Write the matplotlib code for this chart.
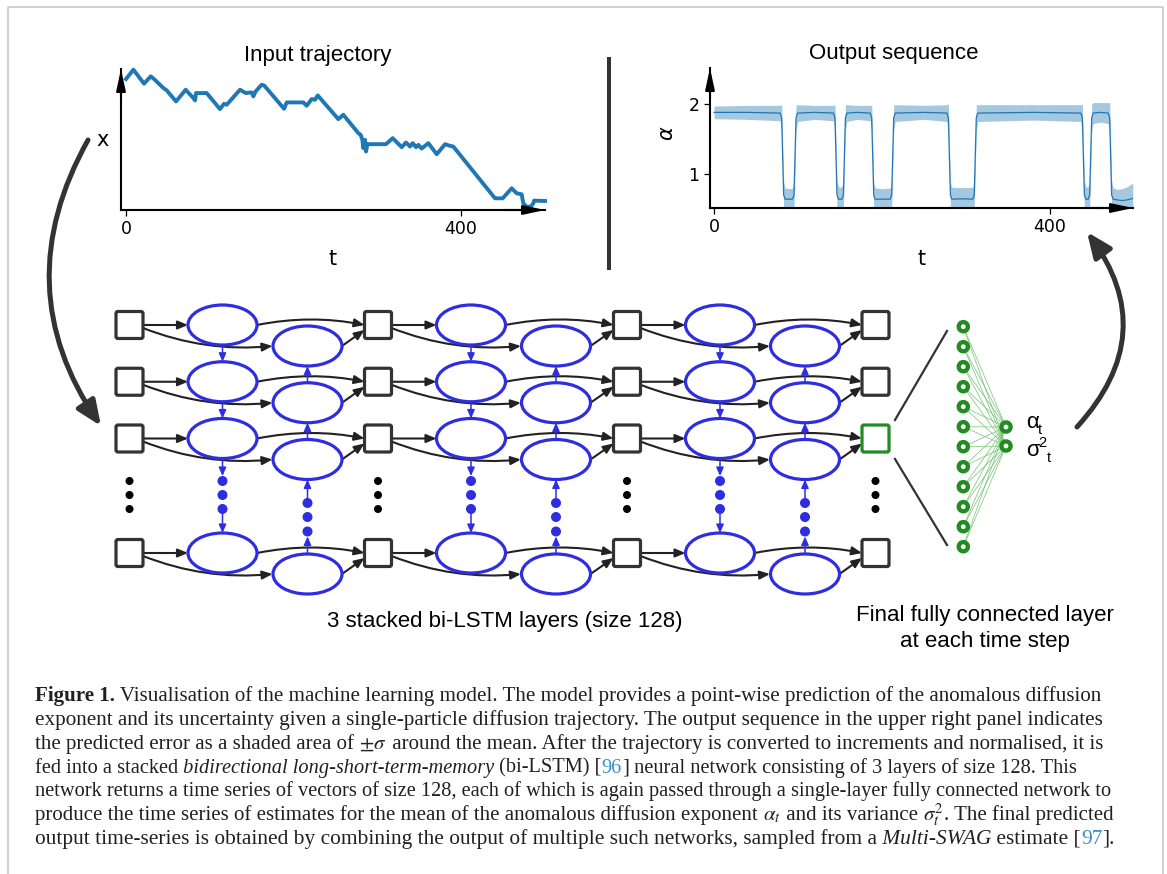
import matplotlib
matplotlib.use('Agg')
import matplotlib.pyplot as plt
from matplotlib.patches import Ellipse, FancyArrowPatch, FancyBboxPatch, Circle

W, H = 1167, 874

# ---------------- data ----------------
# Input trajectory (t, x in arbitrary units)
traj_t = [0, 8.8, 21.5, 29.5, 33.4, 44.6, 48.6, 59.7, 71.2, 80.4, 82.4, 83.6, 96.3,
          112.2, 117, 120.2, 136.1, 142.9, 150, 152, 154.8, 162, 165.2, 188.7, 191.8,
          211.7, 215.7, 221.7, 225.7, 228.9, 253.5, 259.5, 277.4, 280.2, 282.2, 283.4,
          285.4, 286.6, 288.2, 310.4, 318.4, 329.2, 334.3, 339.1, 342.3, 346.3, 349.1,
          353, 361, 371, 381, 386.9, 390.8, 440.6, 449.8, 460.5, 466.5, 472.4, 474.4,
          478.4, 483.2, 486.4, 487.2, 500.3]
traj_x = [3.92, 4.20, 3.78, 4.00, 3.92, 3.65, 3.58, 3.25, 3.60, 3.35, 3.28, 3.50, 3.50,
          3.02, 3.18, 3.15, 3.60, 3.50, 3.52, 3.40, 3.55, 3.75, 3.72, 3.03, 3.22,
          3.22, 3.12, 3.32, 3.30, 3.43, 2.72, 2.85, 2.30, 2.25, 2.10, 1.85,
          2.10, 1.75, 1.97, 1.97, 2.15, 1.88, 2.02, 1.90, 2.00, 1.88, 1.95,
          1.84, 2.00, 1.67, 1.97, 1.92, 1.90, 0.35, 0.35, 0.65, 0.50, 0.47, 0.20,
          0.10, 0.10, 0.20, 0.28, 0.27]

# Output sequence: time, predicted mean alpha, predicted sigma
out_t = [0, 40, 78.7, 80.5, 81.7, 82.9, 84.7, 90, 93.4, 95.2, 96.4, 97.6, 99.4,
         120, 142.2, 144.0, 145.2, 146.4, 148.2, 150, 152.2, 154.0, 155.2, 156.4, 158.2,
         170, 185.9, 187.7, 188.9, 190.1, 191.9, 200, 209.7, 211.5, 212.7, 213.9, 215.7,
         250, 277.2, 279.0, 280.2, 281.4, 283.2, 295, 308.0, 309.8, 311.0, 312.2, 314.0,
         380, 436.7, 438.5, 439.7, 440.9, 442.7, 444, 445.4, 447.2, 448.4, 449.6, 451.4,
         460, 469.2, 471.0, 472.2, 473.4, 475.2, 480, 486, 492, 498.5]
out_mean = [1.88, 1.88, 1.87, 1.80, 1.25, 0.70, 0.64, 0.64, 0.64, 0.70, 1.25, 1.80, 1.87,
            1.88, 1.87, 1.80, 1.25, 0.70, 0.64, 0.64, 0.64, 0.70, 1.25, 1.80, 1.87,
            1.88, 1.87, 1.80, 1.25, 0.70, 0.64, 0.64, 0.64, 0.70, 1.25, 1.80, 1.87,
            1.88, 1.87, 1.80, 1.25, 0.70, 0.64, 0.645, 0.64, 0.70, 1.25, 1.80, 1.87,
            1.88, 1.87, 1.80, 1.25, 0.70, 0.64, 0.64, 0.64, 0.70, 1.25, 1.80, 1.87,
            1.88, 1.87, 1.80, 1.25, 0.70, 0.64, 0.63, 0.62, 0.63, 0.65]
out_sigma = [0.09, 0.10, 0.11, 0.19, 0.20, 0.19, 0.16, 0.15, 0.16, 0.19, 0.20, 0.19, 0.12,
             0.10, 0.11, 0.19, 0.20, 0.20, 0.18, 0.17, 0.18, 0.20, 0.20, 0.19, 0.12,
             0.10, 0.11, 0.19, 0.20, 0.19, 0.16, 0.15, 0.16, 0.19, 0.20, 0.19, 0.12,
             0.10, 0.12, 0.20, 0.20, 0.19, 0.17, 0.16, 0.17, 0.19, 0.20, 0.19, 0.12,
             0.11, 0.12, 0.20, 0.20, 0.20, 0.18, 0.17, 0.18, 0.20, 0.20, 0.20, 0.15,
             0.14, 0.15, 0.22, 0.22, 0.20, 0.16, 0.15, 0.17, 0.19, 0.22]

traj_xticks = [0, 400]
out_xticks = [0, 400]
out_yticks = [1, 2]

titles = ["Input trajectory", "Output sequence"]
lstm_label = "3 stacked bi-LSTM layers (size 128)"
fc_label = ["Final fully connected layer", "at each time step"]

caption_lines = [
    [("Figure 1.", "b"), (" Visualisation of the machine learning model. The model provides a point-wise prediction of the anomalous diffusion", "r")],
    [("exponent and its uncertainty given a single-particle diffusion trajectory. The output sequence in the upper right panel indicates", "r")],
    [("the predicted error as a shaded area of", "r"), (" ", "r"), (r"$\pm\sigma$", "m"), (" around the mean. After the trajectory is converted to increments and normalised, it is", "r")],
    [("fed into a stacked", "r"), (" bidirectional long-short-term-memory", "i"), (" (bi-LSTM) [", "r"), ("96", "l"), ("]", "r"), (" neural network consisting of 3 layers of size 128. This", "r")],
    [("network returns a time series of vectors of size 128, each of which is again passed through a single-layer fully connected network to", "r")],
    [("produce the time series of estimates for the mean of the anomalous diffusion exponent", "r"), (" ", "r"), (r"$\alpha_t$", "m"), (" and its variance", "r"), (" ", "r"), (r"$\sigma_t^2$", "m"), (". The final predicted", "r")],
    [("output time-series is obtained by combining the output of multiple such networks, sampled from a", "r"), (" Multi-SWAG", "i"), (" estimate [", "r"), ("97", "l"), ("].", "r")],
]

# ---------------- figure ----------------
fig = plt.figure(figsize=(W / 100, H / 100), dpi=100)
ax0 = fig.add_axes([0, 0, 1, 1])
ax0.set_xlim(0, W)
ax0.set_ylim(H, 0)
ax0.axis('off')

SANS = 'Liberation Sans'
DARK = '#333333'
BLUE_NODE = '#2e2ee0'
GREEN = '#228b22'

# frame
ax0.plot([7.5, 7.5, 1163, 1163], [H, 6.5, 6.5, H], color='#c4c4c4', lw=1.1)

# ---------------- charts ----------------
def axis_arrows(ax):
    kw = dict(arrowstyle='-|>,head_length=1.3,head_width=0.28', mutation_scale=10,
              lw=1.5, color='k', shrinkA=0, shrinkB=0)
    ax.annotate('', xy=(1, 0), xytext=(0.9, 0), xycoords='axes fraction',
                textcoords='axes fraction', arrowprops=kw, annotation_clip=False)
    ax.annotate('', xy=(0, 1), xytext=(0, 0.8), xycoords='axes fraction',
                textcoords='axes fraction', arrowprops=kw, annotation_clip=False)

def style_axes(ax):
    for s in ['top', 'right']:
        ax.spines[s].set_visible(False)
    for s in ['left', 'bottom']:
        ax.spines[s].set_linewidth(1.5)
    ax.patch.set_alpha(0)
    ax.tick_params(labelsize=12.5, width=0.9, length=4)

ax1 = fig.add_axes([121 / W, 1 - 210 / H, (545 - 121) / W, (210 - 69) / H])
ax1.plot(traj_t, traj_x, color='#1f77b4', lw=2.8, clip_on=False)
ax1.set_xlim(-6, 500.3)
ax1.set_ylim(0, 4.22)
style_axes(ax1)
ax1.set_xticks(traj_xticks)
ax1.set_yticks([])
axis_arrows(ax1)

ax2 = fig.add_axes([710 / W, 1 - 208 / H, (1133 - 710) / W, (208 - 68) / H])
lo = [m - s for m, s in zip(out_mean, out_sigma)]
hi = [m + s for m, s in zip(out_mean, out_sigma)]
ax2.fill_between(out_t, lo, hi, color='#1f77b4', alpha=0.4, lw=0)
ax2.plot(out_t, out_mean, color='#1f77b4', lw=0.9)
ax2.set_xlim(-4.8, 498.8)
ax2.set_ylim(0.514, 2.514)
style_axes(ax2)
ax2.set_xticks(out_xticks)
ax2.set_yticks(out_yticks)
axis_arrows(ax2)

# chart texts
ax0.text(318, 55, titles[0], ha='center', va='center', fontsize=16, family=SANS)
ax0.text(894, 54, titles[1], ha='center', va='center', fontsize=16, family=SANS)
ax0.text(333, 259, 't', ha='center', va='center', fontsize=15)
ax0.text(103, 140, 'x', ha='center', va='center', fontsize=15)
ax0.text(922, 259, 't', ha='center', va='center', fontsize=15)
ax0.text(667, 133, r'$\alpha$', ha='center', va='center', fontsize=15, rotation=90)

# divider
ax0.plot([609, 609], [57, 270], color=DARK, lw=2.9, solid_capstyle='butt')

# big curved arrows
for pa, pb, rad in [((88, 140), (101, 426), 0.31), ((1077, 427), (1087, 232), 0.41)]:
    ax0.add_patch(FancyArrowPatch(pa, pb, connectionstyle=f'arc3,rad={rad}',
                                  arrowstyle='-|>,head_length=0.75,head_width=0.32',
                                  mutation_scale=20, lw=3.6, color=DARK,
                                  shrinkA=0, shrinkB=0, zorder=2))

# ---------------- LSTM diagram ----------------
col_x = [129.5, 378, 627, 875.5]
row_y = [325, 381.75, 438.5, 553]
SQ = 27
FWD_DX, BWD_DX, BWD_DY = 93, 178, 21
EW, EH = 69, 40
dots_y = [481, 495, 509]

def arrow(p0, p1, rad=0.0, color='#222222', lw=1.5, hl=0.6, hw=0.25, z=2):
    ax0.add_patch(FancyArrowPatch(p0, p1, connectionstyle=f'arc3,rad={rad}',
                                  arrowstyle=f'-|>,head_length={hl},head_width={hw}',
                                  mutation_scale=10, lw=lw, color=color,
                                  shrinkA=0, shrinkB=0, zorder=z))

def ellipse(cx, cy):
    ax0.add_patch(Ellipse((cx, cy), EW, EH, fc='white', ec=BLUE_NODE, lw=2.3, zorder=3))

def square(cx, cy, color=DARK):
    ax0.add_patch(FancyBboxPatch((cx - SQ / 2, cy - SQ / 2), SQ, SQ,
                                 boxstyle='round,pad=0,rounding_size=2',
                                 fc='white', ec=color, lw=2.3, zorder=3))

for ci, cx in enumerate(col_x):
    for ri, ry in enumerate(row_y):
        square(cx, ry, GREEN if (ci == 3 and ri == 2) else DARK)
    for dy in dots_y:
        ax0.add_patch(Circle((cx, dy), 3.3, color='black', zorder=3))

for ci in range(3):
    cx = col_x[ci]
    nx = col_x[ci + 1]
    fx = cx + FWD_DX
    bx = cx + BWD_DX
    for ri, ry in enumerate(row_y):
        by = ry + BWD_DY
        ellipse(fx, ry)
        ellipse(bx, by)
        arrow((cx + SQ / 2, ry), (fx - EW / 2, ry))
        arrow((cx + SQ / 2, ry + 3), (bx - EW / 2 - 0.5, by), rad=0.12)
        arrow((fx + EW / 2, ry), (nx - SQ / 2, ry), rad=-0.1)
        arrow((bx + EW / 2, by), (nx - SQ / 2, ry + 5))
    # vertical connections between stacked layers
    for r0, r1 in [(0, 1), (1, 2)]:
        arrow((fx, row_y[r0] + EH / 2), (fx, row_y[r1] - EH / 2), color=BLUE_NODE,
              lw=1.1, hl=0.5, hw=0.22, z=4)
        arrow((bx, row_y[r1] + BWD_DY - EH / 2), (bx, row_y[r0] + BWD_DY + EH / 2),
              color=BLUE_NODE, lw=1.1, hl=0.5, hw=0.22, z=4)
    # forward dots
    for dy in dots_y:
        ax0.add_patch(Circle((fx, dy), 4.3, color=BLUE_NODE, zorder=3))
    arrow((fx, row_y[2] + EH / 2), (fx, dots_y[0] - 5), color=BLUE_NODE, lw=1.1,
          hl=0.5, hw=0.22, z=4)
    arrow((fx, dots_y[2]), (fx, row_y[3] - EH / 2), color=BLUE_NODE, lw=1.1,
          hl=0.5, hw=0.22, z=2)
    # backward dots
    bdots = [503, 517, 531.5]
    for dy in bdots:
        ax0.add_patch(Circle((bx, dy), 4.3, color=BLUE_NODE, zorder=3))
    arrow((bx, row_y[3] + BWD_DY - EH / 2), (bx, bdots[2] + 5), color=BLUE_NODE,
          lw=1.1, hl=0.5, hw=0.22, z=4)
    arrow((bx, bdots[0]), (bx, row_y[2] + BWD_DY + EH / 2), color=BLUE_NODE,
          lw=1.1, hl=0.5, hw=0.22, z=2)

ax0.text(505, 621, lstm_label, ha='center', va='center', fontsize=16, family=SANS)

# ---------------- fully connected layer ----------------
fc_x, out_x = 963.3, 1006
fc_y = [326.7 + 20 * i for i in range(12)]
out_y = [427, 446]
ax0.plot([895, 947], [420, 331], color=DARK, lw=1.6)
ax0.plot([895, 947], [459, 545], color=DARK, lw=1.6)
for yi in fc_y:
    for yo in out_y:
        ax0.plot([fc_x, out_x], [yi, yo], color='#74c274', lw=0.5, zorder=2)
for yi in fc_y:
    ax0.add_patch(Circle((fc_x, yi), 4.6, fc='white', ec=GREEN, lw=3.1, zorder=3))
for yo in out_y:
    ax0.add_patch(Circle((out_x, yo), 4.6, fc='white', ec=GREEN, lw=3.1, zorder=3))

ax0.text(1026, 423, 'α', ha='left', va='center', fontsize=16, family=SANS)
ax0.text(1037.5, 430, 't', ha='left', va='center', fontsize=10.5, family=SANS)
ax0.text(1026, 451, 'σ', ha='left', va='center', fontsize=16, family=SANS)
ax0.text(1038.5, 443, '2', ha='left', va='center', fontsize=10.5, family=SANS)
ax0.text(1047, 458, 't', ha='left', va='center', fontsize=10.5, family=SANS)

ax0.text(985, 615, fc_label[0], ha='center', va='center', fontsize=16, family=SANS)
ax0.text(985, 642, fc_label[1], ha='center', va='center', fontsize=16, family=SANS)

# ---------------- caption ----------------
renderer = fig.canvas.get_renderer()
SERIF = 'Liberation Serif'
TXT = '#231f20'
LINK = '#3b8fc8'
CAP_LEFT = 35
cap_right = [1097, 1099, 1094, 1072, 1107, 1112, 1113]

def seg_props(kind, size):
    d = dict(fontsize=size, family=SERIF, color=TXT)
    if kind == 'b':
        d['fontweight'] = 'bold'
    elif kind == 'i':
        d['fontstyle'] = 'italic'
    elif kind == 'l':
        d['color'] = LINK
    elif kind == 'm':
        d['math_fontfamily'] = 'stix'
    return d

def seg_width(s, kind, size):
    props = seg_props(kind, size)
    if kind == 'm':
        t = ax0.text(0, 0, s, **props)
        w = t.get_window_extent(renderer).width
        t.remove()
        return w
    t1 = ax0.text(0, 0, s + '|', **props)
    t2 = ax0.text(0, 0, '|', **props)
    w = t1.get_window_extent(renderer).width - t2.get_window_extent(renderer).width
    t1.remove()
    t2.remove()
    return w

base = 12.0
for li, line in enumerate(caption_lines):
    w_line = sum(seg_width(s, k, base) for s, k in line)
    size = base * (cap_right[li] - CAP_LEFT) / w_line
    x = CAP_LEFT
    yb = 701.5 + 23.7 * li
    for s, k in line:
        ax0.text(x, yb, s, ha='left', va='baseline', **seg_props(k, size))
        x += seg_width(s, k, size)

fig.savefig('out.png', dpi=100)
